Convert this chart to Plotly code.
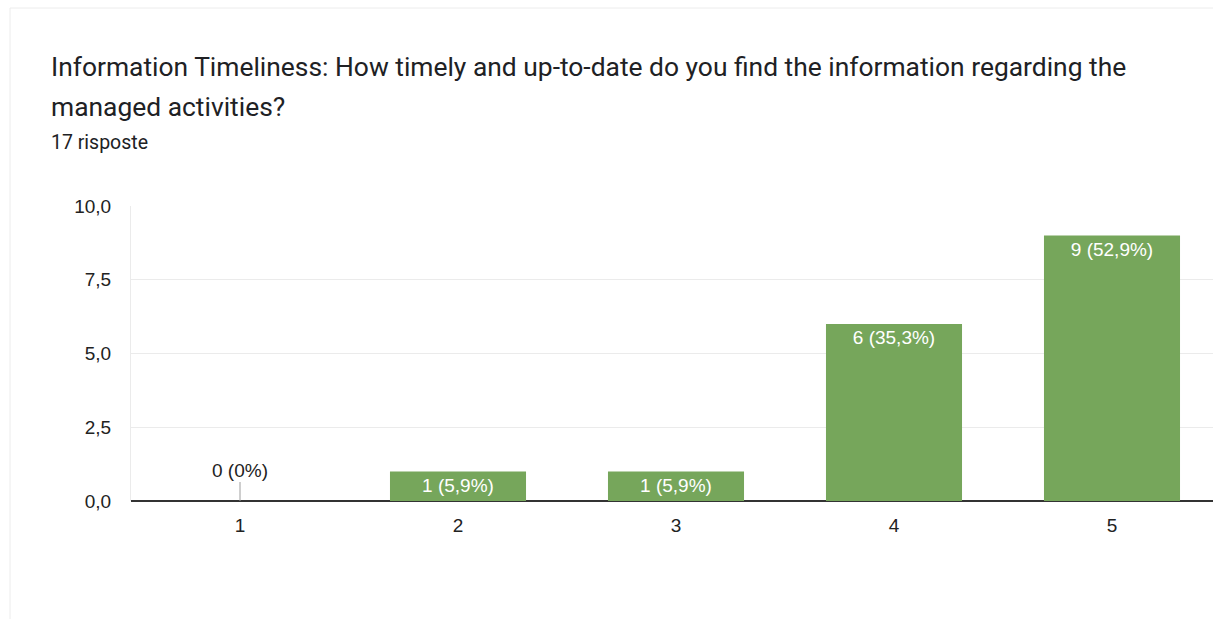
import plotly.graph_objects as go

categories = ["1", "2", "3", "4", "5"]
values = [0, 1, 1, 6, 9]
y_ticks = [0, 2.5, 5, 7.5, 10]
title_line1 = "Information Timeliness: How timely and up-to-date do you find the information regarding the"
title_line2 = "managed activities?"
subtitle = "17 risposte"

total = sum(values)


def fmt_pct(v):
    p = round(v / total * 100, 1)
    s = f"{p:.1f}".rstrip("0").rstrip(".")
    return s.replace(".", ",") + "%"


labels = [f"{v} ({fmt_pct(v)})" for v in values]

W, H = 1213, 619
L, R, T, B = 131, 0, 206, 118
pw, ph = W - L - R, H - T - B


def px(x):
    return (x - L) / pw


def py(y):
    return (H - B - y) / ph


bar_color = "#76a65b"
text_color = "#202124"
chart_font = "Arial, Liberation Sans"

fig = go.Figure()
fig.add_trace(go.Bar(
    x=categories,
    y=values,
    marker=dict(color=bar_color, line=dict(width=0)),
    text=[lab if v > 0 else "" for lab, v in zip(labels, values)],
    textposition="inside",
    insidetextanchor="end",
    textangle=0,
    textfont=dict(family=chart_font, size=19, color="white"),
    constraintext="none",
    hoverinfo="skip",
))

# label for zero-height bars with a small leader line
for i, (v, lab) in enumerate(zip(values, labels)):
    if v == 0:
        fig.add_annotation(
            x=i, y=v, xref="x", yref="y",
            text=lab, showarrow=True, arrowhead=0, arrowwidth=1,
            arrowcolor="#9e9e9e", ax=0, ay=-31,
            font=dict(family=chart_font, size=19, color="#222222"),
        )

fig.add_annotation(text=title_line1, xref="paper", yref="paper",
                   x=px(49), y=py(67), xanchor="left", yanchor="middle",
                   showarrow=False,
                   font=dict(family="Roboto", size=26.4, color=text_color))
fig.add_annotation(text=title_line2, xref="paper", yref="paper",
                   x=px(49), y=py(107), xanchor="left", yanchor="middle",
                   showarrow=False,
                   font=dict(family="Roboto", size=26.4, color=text_color))
fig.add_annotation(text=subtitle, xref="paper", yref="paper",
                   x=px(49), y=py(142), xanchor="left", yanchor="middle",
                   showarrow=False,
                   font=dict(family="Roboto", size=19.5, color=text_color))

# card outline
fig.add_shape(type="rect", xref="paper", yref="paper",
              x0=px(10), x1=px(1250), y0=py(8), y1=py(700),
              line=dict(color="#ececec", width=1), fillcolor="rgba(0,0,0,0)",
              layer="below")

fig.update_layout(
    width=W, height=H,
    margin=dict(l=L, r=R, t=T, b=B, pad=0),
    paper_bgcolor="white", plot_bgcolor="white",
    showlegend=False,
    bargap=0.376,
    separators=",.",
    font=dict(family=chart_font, size=19, color="#222222"),
    xaxis=dict(
        type="category",
        range=[-0.5, -0.5 + pw / 218],
        showgrid=False, zeroline=False,
        showline=False,
        ticks="", ticklabelstandoff=11,
        tickfont=dict(family=chart_font, size=19, color="#222222"),
        fixedrange=True,
    ),
    yaxis=dict(
        range=[0, 10],
        tickvals=y_ticks,
        tickformat=".1f",
        showgrid=True, gridcolor="#ebebeb", gridwidth=1,
        zeroline=True, zerolinecolor="#333333", zerolinewidth=1.5,
        showline=True, linecolor="#ebebeb", linewidth=1,
        ticks="", ticklabelstandoff=15,
        tickfont=dict(family=chart_font, size=19, color="#222222"),
        fixedrange=True,
    ),
)

fig.write_html("out.html", config={"displayModeBar": False},
               post_script="document.body.style.margin='0px';")
